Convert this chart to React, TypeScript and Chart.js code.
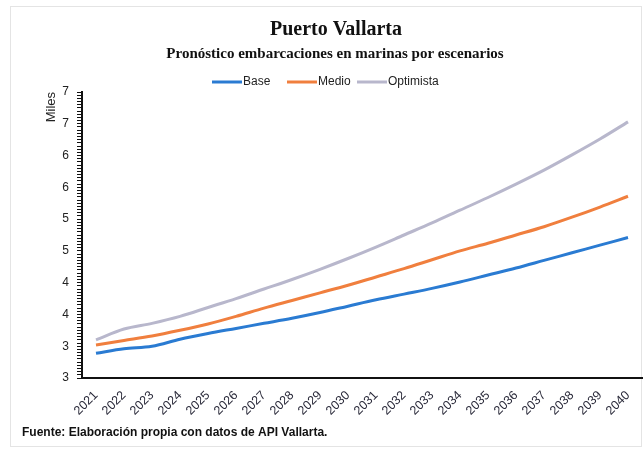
import React, { useEffect, useRef } from "react";
import { Chart, registerables } from "chart.js";

Chart.register(...registerables);

const years = ["2021","2022","2023","2024","2025","2026","2027","2028","2029","2030","2031","2032","2033","2034","2035","2036","2037","2038","2039","2040"];
const base = [2.89, 2.96, 3.0, 3.11, 3.2, 3.28, 3.36, 3.44, 3.53, 3.63, 3.73, 3.82, 3.91, 4.01, 4.12, 4.23, 4.35, 4.47, 4.59, 4.71];
const medio = [3.02, 3.09, 3.16, 3.25, 3.35, 3.47, 3.6, 3.72, 3.84, 3.96, 4.09, 4.22, 4.36, 4.5, 4.62, 4.75, 4.88, 5.03, 5.19, 5.36];
const optimista = [3.1, 3.27, 3.36, 3.47, 3.61, 3.75, 3.9, 4.05, 4.21, 4.38, 4.56, 4.75, 4.94, 5.14, 5.34, 5.55, 5.77, 6.01, 6.26, 6.53];
const seriesNames = ["Base", "Medio", "Optimista"];
const seriesColors = ["#2a7bd2", "#f07f3e", "#b8b7cc"];
const yMin = 2.5;
const yMax = 7;
const yMajorStep = 0.5;
const yMinorStep = 0.05;

const title = "Puerto Vallarta";
const subtitle = "Pronóstico embarcaciones en marinas por escenarios";
const footer = "Fuente: Elaboración propia con datos de API Vallarta.";
const yTitle = "Miles";

const decorPlugin = {
  id: "decor",
  beforeDraw(chart: any) {
    const ctx = chart.ctx;
    ctx.save();
    ctx.fillStyle = "#ffffff";
    ctx.fillRect(0, 0, chart.width, chart.height);
    ctx.strokeStyle = "#e4e4e4";
    ctx.lineWidth = 1;
    ctx.strokeRect(10.5, 6.5, 631, 440);
    ctx.restore();
  },
  afterDraw(chart: any) {
    const ctx = chart.ctx;
    ctx.save();
    ctx.fillStyle = "#111111";
    ctx.textAlign = "center";
    ctx.textBaseline = "middle";
    ctx.font = "bold 20px 'Liberation Serif'";
    ctx.fillText(title, 336, 30);
    ctx.font = "bold 15px 'Liberation Serif'";
    ctx.fillText(subtitle, 335, 54, 366);

    ctx.font = "12px 'Liberation Sans'";
    ctx.textAlign = "left";
    const items = [
      { x: 212, name: seriesNames[0], color: seriesColors[0] },
      { x: 287, name: seriesNames[1], color: seriesColors[1] },
      { x: 357, name: seriesNames[2], color: seriesColors[2] },
    ];
    items.forEach((it) => {
      ctx.strokeStyle = it.color;
      ctx.lineWidth = 3;
      ctx.beginPath();
      ctx.moveTo(it.x, 82);
      ctx.lineTo(it.x + 30, 82);
      ctx.stroke();
      ctx.fillStyle = "#222222";
      ctx.fillText(it.name, it.x + 31, 82);
    });

    ctx.font = "bold 12px 'Liberation Sans'";
    ctx.textAlign = "left";
    ctx.fillStyle = "#111111";
    ctx.fillText(footer, 22, 433, 308);
    ctx.restore();
  },
};

export default function App() {
  const ref = useRef<HTMLCanvasElement | null>(null);
  useEffect(() => {
    if (!ref.current) return;
    const ds = (i: number, data: number[]) => ({
      label: seriesNames[i],
      data,
      borderColor: seriesColors[i],
      backgroundColor: seriesColors[i],
      borderWidth: 3,
      pointRadius: 0,
      cubicInterpolationMode: "monotone" as const,
    });
    const chart = new Chart(ref.current, {
      type: "line",
      data: {
        labels: years,
        datasets: [ds(0, base), ds(1, medio), ds(2, optimista)],
      },
      options: {
        animation: false,
        responsive: false,
        devicePixelRatio: 1,
        layout: { padding: { top: 92, left: 40, right: 1, bottom: 0 } },
        plugins: { legend: { display: false }, title: { display: false }, tooltip: { enabled: false } },
        scales: {
          x: {
            offset: true,
            grid: { display: false },
            border: { display: true, color: "#111111", width: 2 },
            ticks: {
              color: "#2a2a3a",
              font: { family: "'Liberation Sans'", size: 12.5 },
              maxRotation: 45,
              minRotation: 45,
              autoSkip: false,
              padding: 2,
            },
            afterFit: (s: any) => { s.height = 72; },
          },
          y: {
            min: yMin,
            max: yMax,
            grid: { drawOnChartArea: false, drawTicks: true, tickLength: 5, color: "#111111", lineWidth: 1 },
            border: { display: true, color: "#111111", width: 2 },
            title: { display: true, text: yTitle, align: "end", color: "#222222", font: { family: "'Liberation Sans'", size: 13 }, padding: { top: 4, bottom: 4 } },
            ticks: {
              stepSize: yMinorStep,
              autoSkip: false,
              color: "#222222",
              font: { family: "'Liberation Sans'", size: 12 },
              padding: 8,
              callback: (v: any) => {
                const n = Number(v) / yMajorStep;
                return Math.abs(n - Math.round(n)) < 1e-6 ? String(Math.round(Number(v))) : "";
              },
            },
            afterFit: (s: any) => { s.width = 42; },
          },
        },
      },
      plugins: [decorPlugin],
    });
    return () => chart.destroy();
  }, []);
  return (
    <div style={{ position: "absolute", left: 0, top: 0, width: 643, height: 450 }}>
      <canvas ref={ref} width={643} height={450} style={{ width: 643, height: 450 }} />
    </div>
  );
}
